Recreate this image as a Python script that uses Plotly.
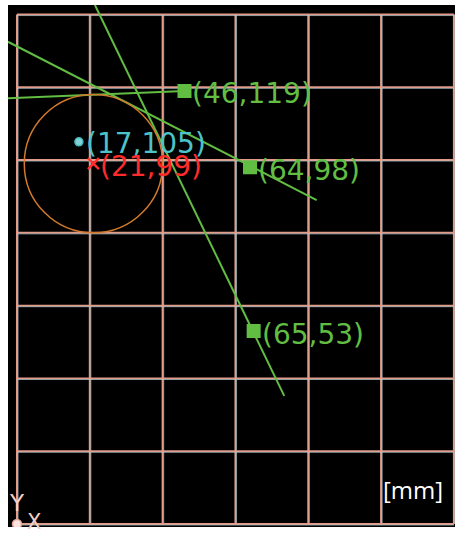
import plotly.graph_objects as go

# ---- data (mm) ----
grid_x = [0, 20, 40, 60, 80, 100, 120]
grid_y = [0, 20, 40, 60, 80, 100, 120, 140]

pts_x = [46, 64, 65]
pts_y = [119, 98, 53]
pts_labels = ["(46,119)", "(64,98)", "(65,53)"]

center_x = [17]
center_y = [105]
center_label = ["(17,105)"]

cross_x = [21]
cross_y = [99]
cross_label = ["(21,99)"]
circle_r = 19

line_a_x = [-2.5, 46]
line_a_y = [117.0, 119]
line_b_x = [-2.5, 82.3]
line_b_y = [132.5, 89.0]
line_c_x = [21.4, 73.4]
line_c_y = [142.6, 35.2]

unit_text = "[mm]"

GREEN = "#62bd43"
PINK = "#e39a88"
BLUE = "#a9d6e2"

fig = go.Figure()

shapes = []
off = 0.3
for gx in grid_x:
    shapes.append(dict(type="line", x0=gx, x1=gx, y0=grid_y[0], y1=grid_y[-1],
                       line=dict(color=PINK, width=2), layer="below"))
    shapes.append(dict(type="line", x0=gx + off, x1=gx + off, y0=grid_y[0], y1=grid_y[-1],
                       line=dict(color=BLUE, width=0.6), layer="below"))
for gy in grid_y:
    shapes.append(dict(type="line", y0=gy, y1=gy, x0=grid_x[0], x1=grid_x[-1],
                       line=dict(color=PINK, width=2), layer="below"))
    shapes.append(dict(type="line", y0=gy - off, y1=gy - off, x0=grid_x[0], x1=grid_x[-1],
                       line=dict(color=BLUE, width=0.6), layer="below"))

shapes.append(dict(type="circle", x0=cross_x[0] - circle_r, x1=cross_x[0] + circle_r,
                   y0=cross_y[0] - circle_r, y1=cross_y[0] + circle_r,
                   line=dict(color="#d2792c", width=1.5)))
fig.update_layout(shapes=shapes)

for lx, ly in [(line_a_x, line_a_y), (line_b_x, line_b_y), (line_c_x, line_c_y)]:
    fig.add_trace(go.Scatter(x=lx, y=ly, mode="lines", line=dict(color=GREEN, width=2),
                             hoverinfo="skip", showlegend=False))

fig.add_trace(go.Scatter(x=pts_x, y=pts_y, mode="markers",
                         marker=dict(symbol="square", size=12, color=GREEN,
                                     line=dict(color=GREEN, width=2)),
                         showlegend=False))
fig.add_trace(go.Scatter(x=center_x, y=center_y, mode="markers",
                         marker=dict(symbol="circle", size=8, color="#7fd3d6",
                                     line=dict(color="#47b8bf", width=1.5)),
                         showlegend=False))
fig.add_trace(go.Scatter(x=cross_x, y=cross_y, mode="markers",
                         marker=dict(symbol="x-thin", size=11,
                                     line=dict(color="#ff3030", width=2.5)),
                         showlegend=False))

font_fam = "DejaVu Sans"
ann = []
for x, y, t in zip(pts_x, pts_y, pts_labels):
    ann.append(dict(x=x, y=y, text=t, showarrow=False, xanchor="left", yanchor="middle",
                    xshift=6, yshift=-3, font=dict(family=font_fam, size=28, color=GREEN)))
ann.append(dict(x=center_x[0], y=center_y[0], text=center_label[0], showarrow=False,
                xanchor="left", yanchor="middle", xshift=5, yshift=-2,
                font=dict(family=font_fam, size=28, color="#4cc3c9")))
ann.append(dict(x=cross_x[0], y=cross_y[0], text=cross_label[0], showarrow=False,
                xanchor="left", yanchor="middle", xshift=5, yshift=-3,
                font=dict(family=font_fam, size=28, color="#ff2b2b")))
ann.append(dict(x=0.978, y=0.072, xref="paper", yref="paper", text=unit_text, showarrow=False,
                xanchor="right", yanchor="middle",
                font=dict(family="Open Sans", size=24, color="white")))
# axis icon
ann.append(dict(x=0, y=0, text="Y", showarrow=False, xanchor="center", yanchor="bottom",
                yshift=6, font=dict(family=font_fam, size=23, color="#f3cfc6")))
ann.append(dict(x=0, y=0, text="X", showarrow=False, xanchor="left", yanchor="middle",
                xshift=8, yshift=2, font=dict(family=font_fam, size=21, color="#f3cfc6")))
fig.update_layout(annotations=ann)

fig.add_trace(go.Scatter(x=[0], y=[0], mode="markers",
                         marker=dict(symbol="circle", size=9, color="#fbe4df",
                                     line=dict(color="#e4a595", width=1.5)),
                         showlegend=False, hoverinfo="skip"))

fig.update_layout(
    width=456, height=533,
    margin=dict(l=8, r=1, t=5, b=6),
    paper_bgcolor="white", plot_bgcolor="black",
    xaxis=dict(range=[-2.47, 120.3], visible=False, showgrid=False, zeroline=False, fixedrange=True),
    yaxis=dict(range=[-0.82, 142.6], visible=False, showgrid=False, zeroline=False, fixedrange=True),
    showlegend=False,
)

fig.write_html("out.html", config={"displayModeBar": False},
               post_script="document.body.style.margin='0';document.body.style.overflow='hidden';")
